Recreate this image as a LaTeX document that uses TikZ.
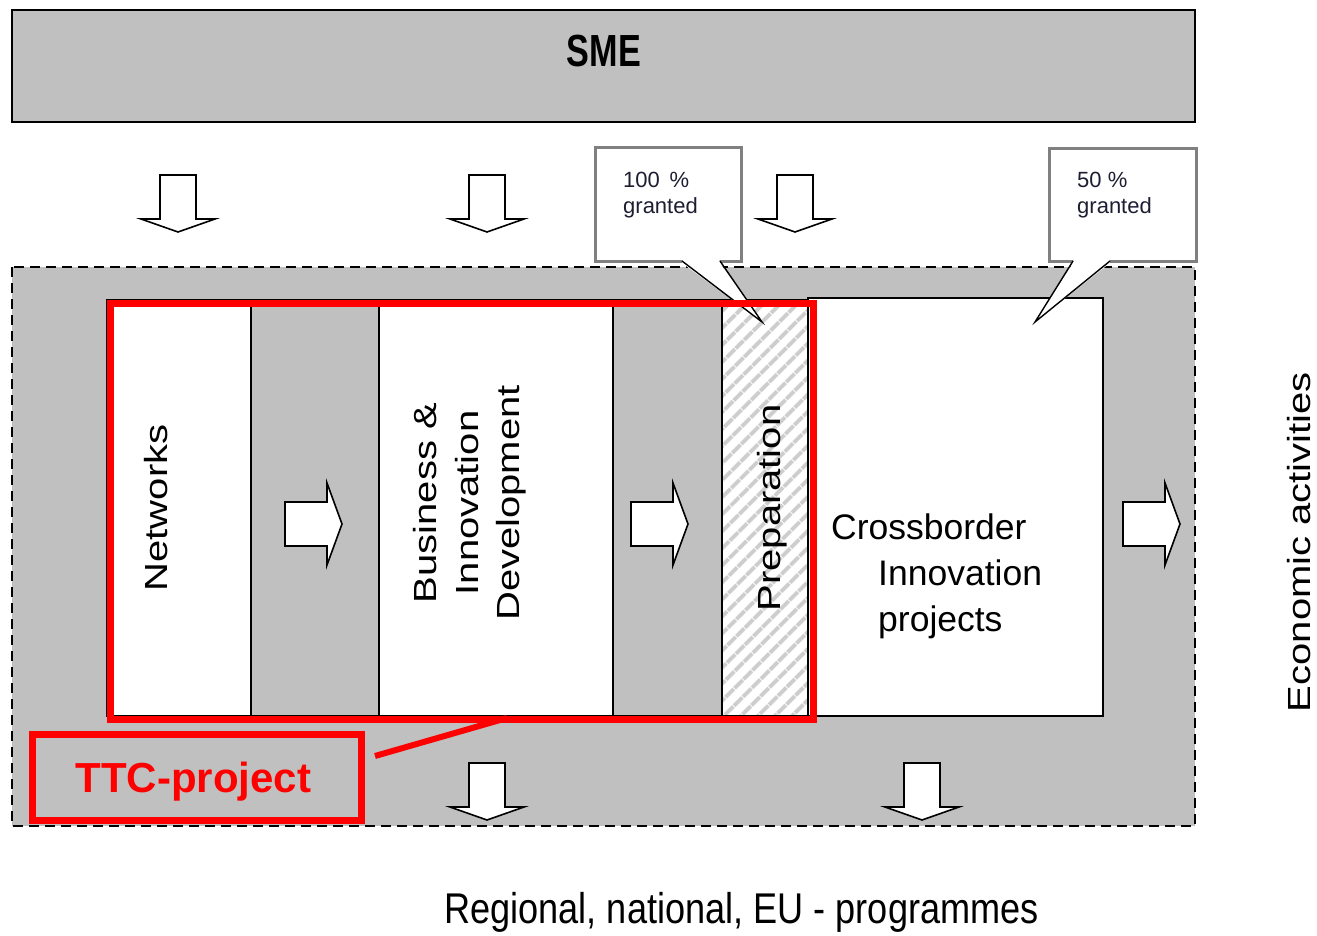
\documentclass[tikz,border=0pt]{standalone}
\usepackage{fontspec}
\usepackage{graphicx}
\setmainfont{Liberation Sans}
\newfontfamily\narrowfont[FakeStretch=0.84]{Liberation Sans}
\newfontfamily\smefont[FakeStretch=0.76]{Liberation Sans}
\usetikzlibrary{patterns.meta}
\definecolor{boxgray}{RGB}{192,192,192}
\definecolor{ttcred}{RGB}{255,0,0}
\definecolor{calloutgray}{RGB}{128,128,128}
\definecolor{hatchgray}{RGB}{205,205,205}
\definecolor{calltext}{RGB}{30,30,50}
\newcommand\vsquash[1]{\scalebox{1}[0.8]{#1}}
\begin{document}
\begin{tikzpicture}[x=1pt,y=-1pt,
  frame/.style={draw=black, line width=1.5pt},
  grayfill/.style={frame, fill=boxgray},
  whitefill/.style={frame, fill=white},
  blockarrow/.style={draw=black, line width=1.6pt, fill=white, line join=miter},
  redframe/.style={draw=ttcred, line width=7pt, inner sep=0pt},
  callout/.style={draw=calloutgray, line width=3pt, fill=white},
  vlabel/.style={rotate=90, inner sep=0pt, font=\fontsize{40}{52}\selectfont},
  calltxt/.style={anchor=base west, inner sep=0pt, text=calltext, font=\fontsize{22}{26}\selectfont},
  cbtxt/.style={anchor=base west, inner sep=0pt, font=\fontsize{35.5}{46}\selectfont},
  downarrow/.pic={\path[blockarrow] (-18,0) -- (-18,44) -- (-37,44) -- (0,57) -- (37,44) -- (18,44) -- (18,0) -- cycle;},
  rightarrow/.pic={\path[blockarrow] (0,-22) -- (42,-22) -- (42,-41) -- (57,0) -- (42,41) -- (42,22) -- (0,22) -- cycle;}
]
\useasboundingbox (0,0) rectangle (1317,936);

% SME bar
\draw[grayfill, line width=2pt] (12,10) rectangle (1195,122);
\node[anchor=base, inner sep=0pt, font=\smefont\bfseries\fontsize{45}{45}\selectfont] (sme) at (604,67) {SME};

% down arrows from SME
\pic (dtop1) at (178,175) {downarrow};
\pic (dtop2) at (487,175) {downarrow};
\pic (dtop3) at (795,175) {downarrow};

% dashed programme area
\draw[fill=boxgray, draw=black, line width=2pt, dash pattern=on 10pt off 6pt] (12,267) rectangle (1195,826);

% inner strip
\draw[whitefill] (107,300) rectangle (251,716);
\draw[grayfill] (251,300) rectangle (379,716);
\draw[whitefill] (379,300) rectangle (613,716);
\draw[grayfill] (613,300) rectangle (722,716);
\path[fill=white] (722,300) rectangle (808,716);
\path[pattern={Lines[angle=45,distance=13pt,line width=4.5pt]}, pattern color=hatchgray] (722,300) rectangle (808,716);
\draw[frame] (722,300) rectangle (808,716);
\draw[whitefill] (808,298) rectangle (1103,716);

% right arrows
\pic (r1) at (285,524) {rightarrow};
\pic (r2) at (631,524) {rightarrow};
\pic (r3) at (1123,524) {rightarrow};

% bottom down arrows
\pic (dbot1) at (487,763) {downarrow};
\pic (dbot2) at (922,763) {downarrow};

% callout 100 %
\draw[callout] (595,148) rectangle (741,261);
\fill[white] (683,257) -- (719,257) -- (720,263) -- (762,322) -- (682,263) -- cycle;
\draw[black, line width=1.4pt] (682,261) -- (762,322) -- (720,261);
\node[calltxt] (c1a) at (623,188) {100 \,\%};
\node[calltxt] (c1b) at (623,214) {granted};

% callout 50 %
\draw[callout] (1049,149) rectangle (1196,261);
\fill[white] (1074,257) -- (1109,257) -- (1110,263) -- (1035,322) -- (1073,263) -- cycle;
\draw[black, line width=1.4pt] (1073,261) -- (1035,322) -- (1110,261);
\node[calltxt] (c2a) at (1077,188) {50 \%};
\node[calltxt] (c2b) at (1077,214) {granted};

% labels in the strip
\node[vlabel] (networks) at (156,508) {\vsquash{Networks}};
\node[vlabel] (bid) at (470,503) {\vsquash{\begin{tabular}{@{}c@{}}Business \&\\Innovation\\Development\end{tabular}}};
\node[vlabel] (prep) at (772,508) {\vsquash{Preparation}};
\node[cbtxt] (cb1) at (831,539) {Crossborder};
\node[cbtxt] (cb2) at (878,585) {Innovation};
\node[cbtxt] (cb3) at (878,631) {projects};

% TTC project frame and label
\node[redframe, anchor=north west, minimum width=703pt, minimum height=416pt] (ttcframe) at (107,300) {};
\node[redframe, anchor=north west, minimum width=329pt, minimum height=86pt] (ttcbox) at (29,731) {};
\node[anchor=base, inner sep=0pt, text=ttcred, font=\bfseries\fontsize{42}{42}\selectfont] (ttctext) at (193.5,792) {TTC-project};
\coordinate (rl1) at (507,718);
\coordinate (rl2) at (375,756);
\draw[ttcred, line width=6pt] (rl1) -- (rl2);

% outside texts
\node[vlabel, font=\fontsize{40}{40}\selectfont] (econ) at (1299,542) {\vsquash{Economic activities}};
\node[anchor=base, inner sep=0pt, font=\narrowfont\fontsize{43}{43}\selectfont] (prog) at (741.5,923) {Regional, national, EU - programmes};
\end{tikzpicture}
\end{document}
